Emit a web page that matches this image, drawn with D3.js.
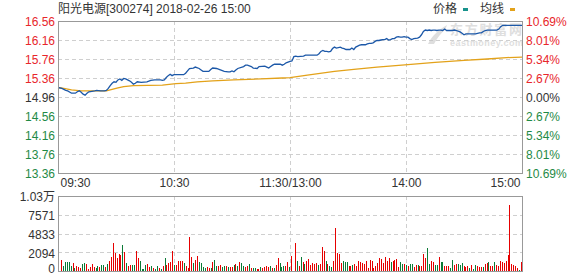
<!DOCTYPE html>
<html>
<head>
<meta charset="utf-8">
<script src="https://cdn.jsdelivr.net/npm/d3@7/dist/d3.min.js"></script>
<style>
    body { margin: 0; background: #fff; }
    text { font-family: "Liberation Sans", "Noto Sans CJK SC", sans-serif; font-size: 12px; }
</style>
</head>
<body>
<div id="chart"></div>
<script>
// ---- data ----
const stockTitle = "阳光电源[300274] 2018-02-26 15:00";
const prevClose = 14.96;

const priceTicks = [16.56, 16.16, 15.76, 15.36, 14.96, 14.56, 14.16, 13.76, 13.36];
const pctTicks = [10.69, 8.01, 5.34, 2.67, 0, -2.67, -5.34, -8.01, -10.69];

const timeTicks = [0, 60, 120, 180, 240];
const timeLabels = ["09:30", "10:30", "11:30/13:00", "14:00", "15:00"];

const volTickLabels = ["0", "2094", "4833", "7571", "1.03万"];
const volMax = 10309;

// [minute since 09:30, price]
const priceLine = [
    [0,15.16],[2,15.14],[4,15.10],[5,15.09],[7,15.04],[9,15.04],[10,15.07],[11,15.09],[12,15.06],[13,15.02],
    [14,15.00],[15,15.04],[16,15.07],[19,15.09],[20,15.10],[22,15.09],[24,15.09],[25,15.10],[26,15.14],[27,15.20],
    [28,15.25],[29,15.28],[30,15.27],[31,15.32],[32,15.34],[33,15.31],[34,15.35],[35,15.34],[36,15.32],[37,15.30],
    [38,15.27],[39,15.23],[40,15.25],[41,15.28],[43,15.27],[46,15.28],[48,15.31],[50,15.32],[53,15.32],[54,15.31],
    [55,15.32],[56,15.37],[57,15.41],[58,15.44],[59,15.41],[60,15.43],[65,15.43],[66,15.46],[67,15.51],[68,15.56],
    [70,15.57],[71,15.59],[73,15.56],[74,15.53],[75,15.50],[78,15.50],[79,15.54],[80,15.57],[82,15.56],[84,15.53],
    [86,15.50],[88,15.49],[89,15.49],[90,15.51],[91,15.49],[92,15.53],[93,15.56],[96,15.60],[97,15.63],[98,15.63],
    [100,15.60],[101,15.57],[103,15.56],[104,15.60],[107,15.61],[108,15.59],[109,15.57],[110,15.60],[111,15.63],[112,15.65],
    [115,15.65],[116,15.63],[117,15.65],[118,15.68],[120,15.71],[121,15.72],[122,15.81],[123,15.82],[124,15.81],[127,15.82],
    [128,15.84],[134,15.84],[135,15.87],[136,15.92],[137,15.94],[138,15.92],[139,15.92],[140,15.91],[141,15.92],[142,15.98],
    [143,16.01],[144,15.99],[146,16.01],[147,15.99],[148,15.98],[149,15.96],[151,15.96],[152,15.99],[153,15.96],[154,16.01],
    [155,16.03],[156,16.05],[157,16.06],[159,16.06],[160,16.08],[161,16.09],[162,16.09],[163,16.10],[164,16.13],[165,16.15],
    [166,16.15],[167,16.16],[168,16.17],[169,16.17],[170,16.19],[171,16.16],[172,16.17],[173,16.19],[174,16.19],[175,16.22],
    [176,16.23],[177,16.22],[178,16.22],[179,16.23],[180,16.22],[181,16.22],[182,16.19],[183,16.17],[184,16.19],[186,16.20],
    [187,16.22],[188,16.27],[189,16.34],[190,16.37],[191,16.36],[192,16.37],[193,16.36],[194,16.37],[195,16.37],[196,16.36],
    [197,16.37],[198,16.37],[199,16.36],[200,16.39],[201,16.36],[202,16.36],[203,16.36],[204,16.36],[205,16.37],[206,16.36],
    [208,16.33],[209,16.30],[210,16.27],[211,16.29],[216,16.29],[217,16.30],[218,16.31],[219,16.31],[220,16.34],[221,16.36],
    [222,16.37],[227,16.37],[228,16.39],[229,16.44],[230,16.47],[240,16.47]
];

// [minute since 09:30, average price]
const avgLine = [
    [0,15.16],[3,15.14],[7,15.11],[12,15.09],[25,15.09],[28,15.12],[31,15.15],[34,15.18],[39,15.20],[54,15.21],
    [61,15.24],[66,15.25],[72,15.28],[80,15.30],[91,15.32],[105,15.34],[116,15.36],[120,15.37],[129,15.42],[143,15.50],
    [153,15.54],[165,15.59],[181,15.64],[195,15.69],[210,15.73],[222,15.76],[232,15.79],[240,15.80]
];

// one bar per minute, 09:30 .. 15:00
const volume = [
    1510,690,1200,1240,1240,690,1060,450,690,590, 410,960,1100,960,230,510,960,510,370,690,
    590,780,830,510,960,1420,1920,3850,2470,1790, 2380,2240,3570,2610,1100,650,780,870,780,2750,
    1750,1420,280,280,780,920,510,690,370,280, 690,370,320,690,1790,780,1100,1240,2750,830,
    870,1380,1380,1380,1140,650,410,4670,1920,1100, 1470,2060,1240,1100,510,370,590,450,410,1240,
    1510,650,690,830,510,730,690,510,590,510, 780,960,730,1200,1060,730,510,690,960,370,
    410,410,320,280,510,410,510,690,510,650, 450,450,870,1790,1060,590,650,690,1240,510,
    2060,0,3850,1380,690,1920,1240,960,1380,1650, 830,1100,960,1100,830,960,3300,2750,1380,960,
    690,550,1380,5910,2520,2290,1100,1380,1240,1240, 690,690,830,960,690,1380,1240,1100,960,1380,
    410,1510,1380,410,690,1100,1790,1650,1100,1920, 1380,1790,1240,1380,1510,1650,550,1240,960,960,
    830,690,960,960,550,830,830,690,690,2340, 1790,3160,960,1380,1240,830,830,1920,1240,1240,
    690,690,690,410,1510,830,960,960,830,1100, 690,550,690,410,830,280,830,690,550,550,
    550,960,1100,1240,690,690,1240,830,690,1380, 1240,1100,1380,2200,9070,960,830,690,410,140,
    1240
];
// R = up minute (red), G = down minute (green)
const volDir = (
    "RGGGGGRGRR" + "RGGRRRRRGG" + "RGGRGRRRRR" + "RRGRGRRGGR" + "RGGGGRRGRG" +
    "GRGRGRRRRG" + "RRRRGRRRRG" + "RRGGGGRRGR" + "GGRRGGRGRR" + "GRGRGGRRGR" +
    "GGRRGRRRRG" + "RGRRGGGRRG" +
    "RRRGRGRGRR" + "RRRRGRRRGR" + "GGRRRRRGGG" + "RRGRRRRRRR" + "RRRRRRRRRR" +
    "RRGRRRRGGR" + "GRGGRRGRRR" + "RGGRRGGRGG" + "RRRGGRRGGG" + "RRRGRGGRRR" +
    "GRRGRRGRRR" + "RRRRRRRRRG" + "R"
).split("");

// ---- layout ----
const W = 578, H = 276;
const left = 58, right = 522;
const pTop = 21, pBottom = 173;
const vTop = 196, vBottom = 271;

const red = "#e8262b", green = "#1f8a46", grey = "#333";
const lineBlue = "#1c58a8", avgOrange = "#e3a21a";

const svg = d3.select("#chart").append("svg")
    .attr("width", W)
    .attr("height", H);

// scales
const xScale = d3.scaleLinear().domain([0, 240]).range([left, right]);
const barX = d3.scaleLinear().domain([0, 240]).range([left + 3, right - 1]);
const yPrice = d3.scaleLinear().domain([13.36, 16.56]).range([pBottom, pTop]);
const yPct = d3.scaleLinear().domain([-10.69, 10.69]).range([pBottom, pTop]);
const yVol = d3.scaleLinear().domain([0, volMax]).range([vBottom, vTop]);
const yVolLabel = d3.scalePoint().domain(volTickLabels).range([vBottom, vTop]);

function tickColor(i) { return i < 4 ? red : (i === 4 ? grey : green); }

// grids
const grid = svg.append("g").attr("class", "grid")
    .attr("stroke", "#cfcfcf")
    .attr("stroke-dasharray", "4,3")
    .attr("shape-rendering", "crispEdges");

grid.selectAll(".hp")
    .data(priceTicks.slice(1, -1))
    .enter().append("line")
    .attr("x1", left).attr("x2", right)
    .attr("y1", d => Math.round(yPrice(d)) + 0.5)
    .attr("y2", d => Math.round(yPrice(d)) + 0.5);

grid.selectAll(".vp")
    .data(timeTicks.slice(1, -1))
    .enter().append("line")
    .attr("x1", d => Math.round(xScale(d)) + 0.5)
    .attr("x2", d => Math.round(xScale(d)) + 0.5)
    .attr("y1", pTop).attr("y2", pBottom);

grid.selectAll(".hv")
    .data(volTickLabels.slice(1, -1))
    .enter().append("line")
    .attr("x1", left).attr("x2", right)
    .attr("y1", d => Math.round(yVolLabel(d)) + 0.5)
    .attr("y2", d => Math.round(yVolLabel(d)) + 0.5);

grid.selectAll(".vv")
    .data(timeTicks.slice(1, -1))
    .enter().append("line")
    .attr("x1", d => Math.round(xScale(d)) + 0.5)
    .attr("x2", d => Math.round(xScale(d)) + 0.5)
    .attr("y1", vTop).attr("y2", vBottom);

// watermark
const wm = svg.append("g").attr("fill", "#c4c4c4").attr("opacity", 0.55);
wm.append("text")
    .attr("x", 450).attr("y", 34)
    .style("font-size", "13px").style("font-weight", "bold")
    .style("font-family", "'Noto Sans CJK SC', sans-serif")
    .attr("textLength", 72)
    .text("东方财富网");
wm.append("text")
    .attr("x", 450).attr("y", 46)
    .style("font-size", "9px").style("font-weight", "bold")
    .attr("textLength", 73)
    .text("eastmoney.com");
wm.append("path")
    .attr("d", "M428,44 C432,36 438,30 447,25 L445,30 C441,33 437,38 434,44 Z");

// volume bars
svg.append("g")
    .attr("shape-rendering", "crispEdges")
    .selectAll("rect")
    .data(volume)
    .enter().append("rect")
    .attr("x", (d, i) => Math.round(barX(i)))
    .attr("width", 1)
    .attr("y", d => yVol(d))
    .attr("height", d => vBottom - yVol(d))
    .attr("fill", (d, i) => volDir[i] === "R" ? "#e60000" : "#0b7a36");

// price + average lines
const line = d3.line()
    .x(d => xScale(d[0]))
    .y(d => yPrice(d[1]));

svg.append("path")
    .datum(avgLine)
    .attr("d", line)
    .attr("fill", "none")
    .attr("stroke", avgOrange)
    .attr("stroke-width", 1.3);

svg.append("path")
    .datum(priceLine)
    .attr("d", line)
    .attr("fill", "none")
    .attr("stroke", lineBlue)
    .attr("stroke-width", 1.3);

// frames
svg.append("g")
    .attr("fill", "none")
    .attr("stroke", "#999")
    .attr("shape-rendering", "crispEdges")
    .selectAll("rect")
    .data([[pTop, pBottom], [vTop, vBottom]])
    .enter().append("rect")
    .attr("x", left + 0.5).attr("y", d => d[0] + 0.5)
    .attr("width", right - left).attr("height", d => d[1] - d[0]);

// axes
const leftAxis = svg.append("g")
    .attr("transform", `translate(${left},0)`)
    .call(d3.axisLeft(yPrice).tickValues(priceTicks).tickSize(0).tickPadding(3).tickFormat(d3.format(".2f")));
leftAxis.select(".domain").remove();
leftAxis.selectAll("text")
    .style("font-size", "12px")
    .attr("dy", "0.4em")
    .attr("fill", (d, i) => tickColor(i));

const rightAxis = svg.append("g")
    .attr("transform", `translate(${right},0)`)
    .call(d3.axisRight(yPct).tickValues(pctTicks).tickSize(0).tickPadding(4)
        .tickFormat(d => Math.abs(d).toFixed(2) + "%"));
rightAxis.select(".domain").remove();
rightAxis.selectAll("text")
    .style("font-size", "12px")
    .attr("dy", "0.4em")
    .attr("fill", (d, i) => tickColor(i));

const timeAxis = svg.append("g")
    .attr("transform", `translate(0,${pBottom})`)
    .call(d3.axisBottom(xScale).tickValues(timeTicks).tickSize(0).tickPadding(5)
        .tickFormat((d, i) => timeLabels[i]));
timeAxis.select(".domain").remove();
timeAxis.selectAll("text")
    .style("font-size", "12px")
    .attr("fill", grey)
    .attr("text-anchor", (d, i) => i === 0 ? "start" : (i === timeTicks.length - 1 ? "end" : "middle"))
    .attr("dx", (d, i) => i === 0 ? 2 : (i === timeTicks.length - 1 ? -2 : 0));

const volAxis = svg.append("g")
    .attr("transform", `translate(${left},0)`)
    .call(d3.axisLeft(yVolLabel).tickSize(0).tickPadding(3));
volAxis.select(".domain").remove();
volAxis.selectAll("text")
    .style("font-size", "12px")
    .attr("dy", (d, i) => i === 0 ? "0.15em" : "0.4em")
    .attr("fill", grey);

// title + legend
svg.append("text")
    .attr("x", left).attr("y", 13)
    .attr("fill", grey)
    .style("font-size", "12px")
    .text(stockTitle);

const legend = svg.append("g");
legend.append("text").attr("x", 433).attr("y", 13).attr("fill", grey).text("价格");
legend.append("rect").attr("x", 463).attr("y", 8).attr("width", 5).attr("height", 3).attr("fill", "#17928c");
legend.append("text").attr("x", 480).attr("y", 13).attr("fill", grey).text("均线");
legend.append("rect").attr("x", 510).attr("y", 8).attr("width", 5).attr("height", 3).attr("fill", avgOrange);
</script>
</body>
</html>
